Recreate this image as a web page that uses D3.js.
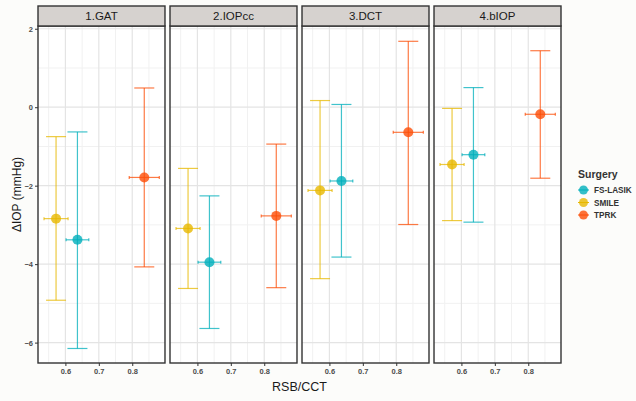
<!DOCTYPE html>
<html>
<head>
<meta charset="utf-8">
<script src="https://cdn.jsdelivr.net/npm/d3@7"></script>
<style>
  body { margin: 0; background: #fcfcfa; }
  svg { display: block; font-family: "Liberation Sans", Arial, sans-serif; }
</style>
</head>
<body>
<div id="chart"></div>
<script>
// facet panels and groups
const panels = ["1.GAT", "2.IOPcc", "3.DCT", "4.bIOP"];
const surgeries = ["FS-LASIK", "SMILE", "TPRK"];
const colors = ["#00AFBB", "#E7B800", "#FC4E07"];

// RSB/CCT per surgery (mean +/- error)
const rsbMean = [0.636, 0.572, 0.836];
const rsbErr = [0.034, 0.036, 0.045];

// delta IOP per panel, one array per surgery
const lasikMean = [-3.38, -3.95, -1.88, -1.21];
const lasikLow = [-6.15, -5.64, -3.82, -2.93];
const lasikHigh = [-0.63, -2.26, 0.07, 0.50];
const smileMean = [-2.84, -3.09, -2.12, -1.46];
const smileLow = [-4.92, -4.62, -4.37, -2.89];
const smileHigh = [-0.75, -1.56, 0.17, -0.03];
const tprkMean = [-1.79, -2.77, -0.64, -0.18];
const tprkLow = [-4.07, -4.60, -2.99, -1.81];
const tprkHigh = [0.49, -0.94, 1.68, 1.44];

const xTicks = [0.6, 0.7, 0.8];
const xMinor = [0.55, 0.65, 0.75, 0.85];
const yTicks = [-6, -4, -2, 0, 2];
const yMinor = [-5, -3, -1, 1];

const width = 636, height = 401;
const plotTop = 26, plotBottom = 363, stripH = 20;

const svg = d3.select("#chart").append("svg")
    .attr("width", width)
    .attr("height", height);

const panelScale = d3.scaleBand()
    .domain(panels)
    .range([38, 561])
    .paddingInner(0.038)
    .paddingOuter(0);
const pw = panelScale.bandwidth();

const x = d3.scaleLinear().domain([0.518, 0.898]).range([0, pw]);
const y = d3.scaleLinear().domain([-6.52, 2.07]).range([plotBottom, plotTop]);

const means = [lasikMean, smileMean, tprkMean];
const lows = [lasikLow, smileLow, tprkLow];
const highs = [lasikHigh, smileHigh, tprkHigh];

panels.forEach((p, pi) => {
    const g = svg.append("g").attr("transform", `translate(${panelScale(p)},0)`);

    g.append("rect")
        .attr("x", 0).attr("y", plotTop)
        .attr("width", pw).attr("height", plotBottom - plotTop)
        .attr("fill", "#ffffff");

    // grid
    g.selectAll(".xminor").data(xMinor).join("line")
        .attr("x1", d => x(d)).attr("x2", d => x(d))
        .attr("y1", plotTop).attr("y2", plotBottom)
        .attr("stroke", "#f1f1f1").attr("stroke-width", 1);
    g.selectAll(".yminor").data(yMinor).join("line")
        .attr("x1", 0).attr("x2", pw)
        .attr("y1", d => y(d)).attr("y2", d => y(d))
        .attr("stroke", "#f1f1f1").attr("stroke-width", 1);
    g.selectAll(".xmajor").data(xTicks).join("line")
        .attr("x1", d => x(d)).attr("x2", d => x(d))
        .attr("y1", plotTop).attr("y2", plotBottom)
        .attr("stroke", "#e4e4e4").attr("stroke-width", 1.2);
    g.selectAll(".ymajor").data(yTicks).join("line")
        .attr("x1", 0).attr("x2", pw)
        .attr("y1", d => y(d)).attr("y2", d => y(d))
        .attr("stroke", "#e4e4e4").attr("stroke-width", 1.2);

    // error bars and points
    surgeries.forEach((s, si) => {
        const c = colors[si];
        const cx = x(rsbMean[si]), cy = y(means[si][pi]);
        const gs = g.append("g").attr("stroke", c).attr("stroke-width", 1.2).attr("stroke-opacity", 0.75);
        gs.append("line")
            .attr("x1", cx).attr("x2", cx)
            .attr("y1", y(lows[si][pi])).attr("y2", y(highs[si][pi]));
        [lows[si][pi], highs[si][pi]].forEach(v => {
            gs.append("line")
                .attr("x1", cx - 10).attr("x2", cx + 10)
                .attr("y1", y(v)).attr("y2", y(v));
        });
        const x0 = x(rsbMean[si] - rsbErr[si]), x1 = x(rsbMean[si] + rsbErr[si]);
        gs.append("line").attr("x1", x0).attr("x2", x1).attr("y1", cy).attr("y2", cy);
        [x0, x1].forEach(xx => {
            gs.append("line").attr("x1", xx).attr("x2", xx).attr("y1", cy - 1.5).attr("y2", cy + 1.5);
        });
        g.append("circle")
            .attr("cx", cx).attr("cy", cy).attr("r", 5)
            .attr("fill", c).attr("fill-opacity", 0.8);
    });

    // border
    g.append("rect")
        .attr("x", 0).attr("y", plotTop)
        .attr("width", pw).attr("height", plotBottom - plotTop)
        .attr("fill", "none").attr("stroke", "#333333").attr("stroke-width", 1.4);

    // strip
    g.append("rect")
        .attr("x", 0).attr("y", plotTop - stripH)
        .attr("width", pw).attr("height", stripH)
        .attr("fill", "#d6d2cf").attr("stroke", "#333333").attr("stroke-width", 1.4);
    g.append("text")
        .attr("x", pw / 2).attr("y", plotTop - stripH / 2 + 4)
        .attr("text-anchor", "middle")
        .attr("font-size", 11.5).attr("fill", "#1a1a1a")
        .text(p);

    // x axis
    const xa = g.append("g").attr("transform", `translate(0,${plotBottom})`)
        .call(d3.axisBottom(x).tickValues(xTicks).tickSize(3).tickPadding(3).tickFormat(d3.format(".1f")));
    xa.select(".domain").remove();
    xa.selectAll("line").attr("stroke", "#333333");
    xa.selectAll("text").attr("font-size", 7.5).attr("font-weight", "bold").attr("fill", "#4d4d4d")
        .attr("font-family", "Liberation Sans, Arial, sans-serif");
});

// y axis on first panel
const ya = svg.append("g").attr("transform", `translate(${panelScale(panels[0])},0)`)
    .call(d3.axisLeft(y).tickValues(yTicks).tickSize(3).tickPadding(2).tickFormat(d3.format("d")));
ya.select(".domain").remove();
ya.selectAll("line").attr("stroke", "#333333");
ya.selectAll("text").attr("font-size", 7.5).attr("font-weight", "bold").attr("fill", "#4d4d4d")
    .attr("font-family", "Liberation Sans, Arial, sans-serif");

// axis titles
svg.append("text")
    .attr("transform", `translate(21,${(plotTop + plotBottom) / 2}) rotate(-90)`)
    .attr("text-anchor", "middle")
    .attr("font-size", 12).attr("fill", "#1a1a1a")
    .text("ΔIOP (mmHg)");
svg.append("text")
    .attr("x", (38 + 561) / 2).attr("y", 391)
    .attr("text-anchor", "middle")
    .attr("font-size", 12.5).attr("fill", "#1a1a1a")
    .text("RSB/CCT");

// legend
const lg = svg.append("g").attr("transform", "translate(578,0)");
lg.append("text")
    .attr("x", 0).attr("y", 178)
    .attr("font-size", 10.5).attr("font-weight", "bold").attr("fill", "#333333")
    .text("Surgery");
surgeries.forEach((s, i) => {
    const yy = 190 + i * 12.5;
    lg.append("line")
        .attr("x1", 0).attr("x2", 11)
        .attr("y1", yy).attr("y2", yy)
        .attr("stroke", colors[i]).attr("stroke-width", 1);
    lg.append("circle")
        .attr("cx", 5.5).attr("cy", yy).attr("r", 4.5)
        .attr("fill", colors[i]).attr("fill-opacity", 0.8);
    lg.append("text")
        .attr("x", 16).attr("y", yy + 3)
        .attr("font-size", 8.2).attr("font-weight", "bold").attr("fill", "#333333")
        .text(s);
});
</script>
</body>
</html>
